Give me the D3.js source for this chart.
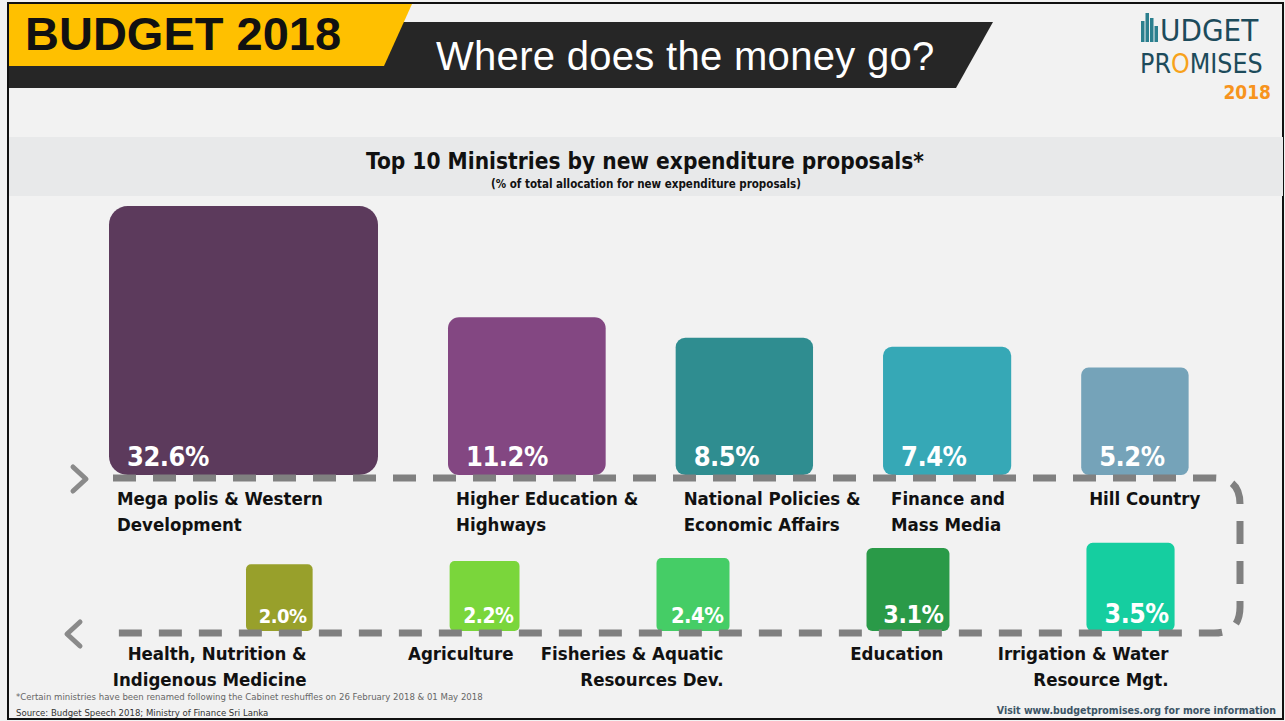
<html>
<head>
<meta charset="utf-8">
<title>Budget 2018 - Where does the money go?</title>
<style>
  body { margin: 0; background: #fff; }
  svg { display: block; }
</style>
</head>
<body>
<script src="https://cdn.jsdelivr.net/npm/d3@7"></script>
<script>

// ministries in the order they sit along the dashed path (top row, then bottom row)
var ministries = [
  ["Mega polis & Western", "Development"],
  ["Higher Education &", "Highways"],
  ["National Policies &", "Economic Affairs"],
  ["Finance and", "Mass Media"],
  ["Hill Country"],
  ["Health, Nutrition &", "Indigenous Medicine"],
  ["Agriculture"],
  ["Fisheries & Aquatic", "Resources Dev."],
  ["Education"],
  ["Irrigation & Water", "Resource Mgt."]
];
// % of total allocation for new expenditure proposals
var shares = [32.6, 11.2, 8.5, 7.4, 5.2, 2.0, 2.2, 2.4, 3.1, 3.5];
var rows   = [0, 0, 0, 0, 0, 1, 1, 1, 1, 1];

var width  = 1285;
var height = 721;
var condensed = "'Liberation Sans Narrow', 'DejaVu Sans Condensed', sans-serif";

var svg = d3.select("body").append("svg")
    .attr("width", width)
    .attr("height", height);

// background + frame
svg.append("rect").attr("x", 0).attr("y", 0).attr("width", width).attr("height", height).attr("fill", "#f2f2f2");
svg.append("rect").attr("x", 8).attr("y", 3).attr("width", width - 10).attr("height", height - 5)
    .attr("fill", "none").attr("stroke", "#111").attr("stroke-width", 2);

// ---- header ----
svg.append("path").attr("d", "M9,22 L993,22 L956,88 L9,88 Z").attr("fill", "#262626");
svg.append("path").attr("d", "M9,4 L412,4 L384,66 L9,66 Z").attr("fill", "#ffc000");
svg.append("text").attr("x", 25).attr("y", 50)
    .attr("font-family", "'Liberation Sans', Arial, sans-serif").attr("font-weight", "bold")
    .attr("font-size", 47).attr("fill", "#111").text("BUDGET 2018");
svg.append("text").attr("x", 436).attr("y", 70)
    .attr("font-family", "'Liberation Sans', Arial, sans-serif")
    .attr("font-size", 40).attr("letter-spacing", 0.3).attr("fill", "#fff").text("Where does the money go?");

// logo
var logo = svg.append("g").attr("font-family", condensed).attr("fill", "#1d4b5b");
[[1141, 21], [1145.5, 13], [1150, 18], [1154.5, 26]].forEach(function(b) {
  logo.append("rect").attr("x", b[0]).attr("y", b[1]).attr("width", 3.5).attr("height", 42 - b[1]).attr("fill", "#2b7f8e");
});
logo.append("text").attr("x", 1160).attr("y", 41).attr("font-size", 31).text("UDGET");
var promises = logo.append("text").attr("x", 1140).attr("y", 73).attr("font-size", 26.5);
promises.append("tspan").text("PR");
promises.append("tspan").attr("fill", "#f7a21b").text("O");
promises.append("tspan").text("MISES");
logo.append("text").attr("x", 1271).attr("y", 99).attr("text-anchor", "end")
    .attr("font-size", 19).attr("font-weight", "bold").attr("fill", "#f7941d").text("2018");

// ---- chart title band ----
svg.append("rect").attr("x", 9).attr("y", 137).attr("width", width - 11).attr("height", 59).attr("fill", "#e8e9ea");
svg.append("text").attr("x", 645).attr("y", 169).attr("text-anchor", "middle")
    .attr("font-family", condensed).attr("font-weight", "bold").attr("font-size", 22.5).attr("fill", "#111")
    .text("Top 10 Ministries by new expenditure proposals*");
svg.append("text").attr("x", 646).attr("y", 188).attr("text-anchor", "middle")
    .attr("font-family", condensed).attr("font-weight", "bold").attr("font-size", 11.5).attr("fill", "#111")
    .text("(% of total allocation for new expenditure proposals)");

// ---- squares: side length on a sqrt scale so area follows the share ----
var side = d3.scaleSqrt().domain([0, d3.max(shares)]).range([0, 269]);
var color = d3.scaleOrdinal().domain(d3.range(shares.length))
    .range(["#5c3a5c", "#834782", "#2f8d90", "#36a8b6", "#75a3b9",
            "#98a02b", "#7ad63b", "#45cd66", "#2a9a48", "#15cea0"]);

var rowBase  = [475, 631];   // bottom edge of squares in each row
var rowStart = [109, 246];   // x of first square in each row
var rowGap   = [70, 137];    // gap between squares

var boxes = [];
var cursor = rowStart.slice();
shares.forEach(function(v, i) {
  var r = rows[i], s = side(v);
  boxes.push({ i: i, v: v, r: r, s: s, x: cursor[r], y: rowBase[r] - s, lines: ministries[i] });
  cursor[r] += s + rowGap[r];
});

svg.selectAll("rect.box").data(boxes).enter().append("rect")
    .attr("class", "box")
    .attr("x", function(d) { return d.x; })
    .attr("y", function(d) { return d.y; })
    .attr("width", function(d) { return d.s; })
    .attr("height", function(d) { return d.s; })
    .attr("rx", function(d) { return Math.max(5, d.s * 0.07); })
    .attr("fill", function(d) { return color(d.i); });

// value labels inside squares
svg.selectAll("text.val").data(boxes).enter().append("text")
    .attr("class", "val")
    .attr("font-family", condensed).attr("font-weight", "bold").attr("fill", "#fff")
    .attr("font-size", function(d) { return d.r === 0 ? 27 : Math.min(27, d.s * 0.3); })
    .attr("letter-spacing", -0.5)
    .attr("text-anchor", function(d) { return d.r === 0 ? "start" : "end"; })
    .attr("x", function(d) { return d.r === 0 ? d.x + 18 : d.x + d.s - 6; })
    .attr("y", function(d) { return rowBase[d.r] - (d.r === 0 ? 9 : 8); })
    .text(function(d) { return d3.format(".1f")(d.v) + "%"; });

// ---- dashed path ----
svg.append("path")
    .attr("d", "M113,478 H1214 Q1240,478 1240,504 V607 Q1240,633 1214,633 H108")
    .attr("fill", "none").attr("stroke", "#808080").attr("stroke-width", 7)
    .attr("stroke-dasharray", "23,17");
svg.append("polyline").attr("points", "73,467 86,479 73,491")
    .attr("fill", "none").attr("stroke", "#8a8a8a").attr("stroke-width", 5).attr("stroke-linecap", "round").attr("stroke-linejoin", "round");
svg.append("polyline").attr("points", "80,622 67,634 80,646")
    .attr("fill", "none").attr("stroke", "#8a8a8a").attr("stroke-width", 5).attr("stroke-linecap", "round").attr("stroke-linejoin", "round");

// ministry names
var labelTop = [505, 660];
svg.selectAll("text.name").data(boxes).enter().append("text")
    .attr("class", "name")
    .attr("font-family", condensed).attr("font-weight", "bold").attr("font-size", 18.5).attr("fill", "#111")
    .attr("text-anchor", function(d) { return d.r === 0 ? "start" : "end"; })
    .each(function(d) {
      var x = d.r === 0 ? d.x + 8 : d.x + d.s - 6;
      d3.select(this).selectAll("tspan").data(d.lines).enter().append("tspan")
          .attr("x", x)
          .attr("y", function(t, k) { return labelTop[d.r] + k * 26; })
          .text(function(t) { return t; });
    });

// ---- footnotes ----
svg.append("text").attr("x", 16).attr("y", 700)
    .attr("font-family", condensed).attr("font-size", 9.5).attr("fill", "#666")
    .text("*Certain  ministries have been renamed following the Cabinet reshuffles on 26 February 2018 & 01 May 2018");
svg.append("text").attr("x", 16).attr("y", 716)
    .attr("font-family", condensed).attr("font-size", 9.5).attr("fill", "#333")
    .text("Source: Budget Speech 2018; Ministry of Finance Sri Lanka");
svg.append("text").attr("x", 1276).attr("y", 714).attr("text-anchor", "end")
    .attr("font-family", condensed).attr("font-weight", "bold").attr("font-size", 10.5).attr("fill", "#3d5566")
    .text("Visit www.budgetpromises.org for more information");

</script>
</body>
</html>
